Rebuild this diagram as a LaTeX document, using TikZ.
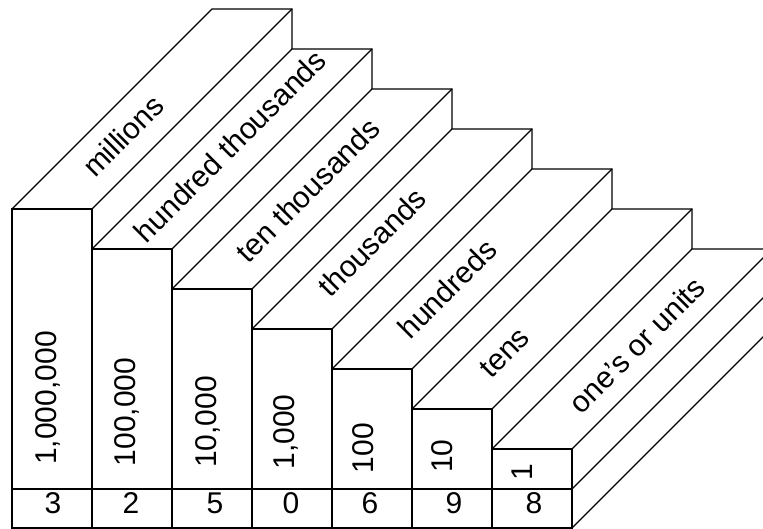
\documentclass[tikz,border=0pt]{standalone}
\usepackage{fontspec}
\setmainfont{Liberation Sans}
\begin{document}
\begin{tikzpicture}[x=1pt,y=-1pt,
  edge/.style={draw=black,line width=1.1pt,line join=miter},
  lbl/.style={font=\fontsize{30}{33}\selectfont,inner sep=0pt,text height=0.72em,text depth=0pt,anchor=center},
]
\useasboundingbox (0,0) rectangle (763,529);
\fill[white] (0,0) rectangle (763,529);
\begin{scope}
\clip (0,0) rectangle (763,529);
\foreach \k in {0,...,6}{
  \pgfmathsetmacro\xa{12+80*\k}
  \pgfmathsetmacro\ya{209+40*\k}
  \draw[edge] (\xa,\ya) rectangle (\xa+80,528);
  \draw[edge] (\xa,489) -- (\xa+80,489);
  \draw[edge] (\xa,\ya) -- (\xa+200,\ya-200) -- (\xa+280,\ya-200) -- (\xa+280,\ya-160);
  \draw[edge] (\xa+80,\ya) -- (\xa+280,\ya-200);
}
\coordinate (sa) at (572,489);
\coordinate (sb) at (772,289);
\coordinate (sc) at (572,528);
\coordinate (sd) at (772,328);
\draw[edge] (sa) -- (sb);
\draw[edge] (sc) -- (sd);
\end{scope}
% top-face labels
\node[lbl,rotate=45] (l1) at (128,141) {millions};
\node[lbl,rotate=45] (l2) at (235,151) {hundred thousands};
\node[lbl,rotate=45] (l3) at (313,195) {ten thousands};
\node[lbl,rotate=45] (l4) at (377,247) {thousands};
\node[lbl,rotate=45] (l5) at (452,294) {hundreds};
\node[lbl,rotate=45] (l6) at (509,357) {tens};
\node[lbl,rotate=45] (l7) at (642,350) {one's or units};
% column values
\node[lbl,rotate=90] (n1) at (53,398) {1,000,000};
\node[lbl,rotate=90] (n2) at (132,412) {100,000};
\node[lbl,rotate=90] (n3) at (213,422) {10,000};
\node[lbl,rotate=90] (n4) at (291,432) {1,000};
\node[lbl,rotate=90] (n5) at (370,448) {100};
\node[lbl,rotate=90] (n6) at (449,456) {10};
\node[lbl,rotate=90] (n7) at (529,472) {1};
% digits row
\node[lbl] (d1) at (53,510) {3};
\node[lbl] (d2) at (131,510) {2};
\node[lbl] (d3) at (215,510) {5};
\node[lbl] (d4) at (291,510) {0};
\node[lbl] (d5) at (370,510) {6};
\node[lbl] (d6) at (454,510) {9};
\node[lbl] (d7) at (534,510) {8};
\end{tikzpicture}
\end{document}
